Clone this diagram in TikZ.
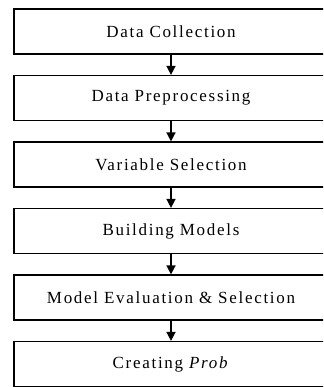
\documentclass[tikz,border=0pt]{standalone}
\usepackage{fontspec}
\setmainfont{Liberation Serif}[LetterSpace=10]
\usetikzlibrary{positioning,arrows.meta}
\tikzstyle{stage} = [rectangle, draw, line width=1.2pt, minimum width=314pt, minimum height=45pt, text centered, font=\fontsize{17}{19}\selectfont]
\tikzstyle{flow}  = [draw, line width=1.5pt, -{Triangle[length=9pt,width=9pt]}]

\begin{document}
\begin{tikzpicture}[node distance=66.5pt]
	\clip (0,0) rectangle (323pt,-387pt);
	\useasboundingbox (0,0) rectangle (323pt,-387pt);
	% place stages
	\node [stage] at (171pt,-31.5pt) (S1) {Data Collection};
	\node [stage, below of=S1]  (S2) {Data Preprocessing};
	\node [stage, below of=S2]  (S3) {Variable Selection};
	\node [stage, below of=S3]  (S4) {Building Models};
	\node [stage, below of=S4]  (S5) {Model Evaluation \& Selection};
	\node [stage, below of=S5]  (S6) {Creating \textit{Prob}};

	% draw arrows
	\path [flow] (S1) -- (S2);
	\path [flow] (S2) -- (S3);
	\path [flow] (S3) -- (S4);
	\path [flow] (S4) -- (S5);
	\path [flow] (S5) -- (S6);
\end{tikzpicture}
\end{document}
